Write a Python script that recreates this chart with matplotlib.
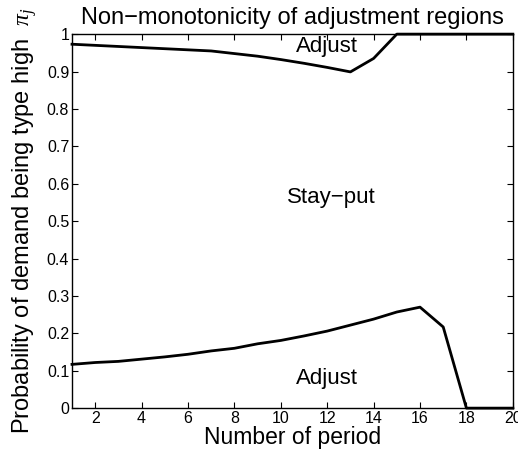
import matplotlib
matplotlib.use('Agg')
import matplotlib.pyplot as plt

# period index and boundary curves
periods = list(range(1, 21))
upper_bound = [0.973, 0.970, 0.967, 0.964, 0.961, 0.958, 0.955, 0.948, 0.941, 0.932,
               0.922, 0.911, 0.899, 0.935, 1.0, 1.0, 1.0, 1.0, 1.0, 1.0]
lower_bound = [0.117, 0.122, 0.125, 0.131, 0.137, 0.144, 0.153, 0.160, 0.172, 0.181,
               0.193, 0.206, 0.222, 0.238, 0.257, 0.270, 0.217, 0.0, 0.0, 0.0]

x_ticks = list(range(2, 21, 2))
y_ticks = [0, 0.1, 0.2, 0.3, 0.4, 0.5, 0.6, 0.7, 0.8, 0.9, 1]
y_ticklabels = ['0', '0.1', '0.2', '0.3', '0.4', '0.5', '0.6', '0.7', '0.8', '0.9', '1']

plt.rcParams['font.family'] = ['Liberation Sans', 'DejaVu Sans']
plt.rcParams['mathtext.fontset'] = 'custom'
plt.rcParams['mathtext.it'] = 'Liberation Serif:italic'

fig = plt.figure(figsize=(5.18, 4.55), dpi=100)
ax = fig.add_axes([0.139, 0.103, 0.851, 0.822])

ax.plot(periods, upper_bound, color='black', lw=2.0, clip_on=False)
ax.plot(periods, lower_bound, color='black', lw=2.0, clip_on=False)

ax.set_xlim(1, 20)
ax.set_ylim(0, 1)
ax.set_xticks(x_ticks)
ax.set_yticks(y_ticks)
ax.set_yticklabels(y_ticklabels)
ax.tick_params(direction='in', top=True, right=True, labelsize=11.5, length=4, width=0.8, pad=2)
for sp in ax.spines.values():
    sp.set_linewidth(1.0)

ax.text(11.97, 0.968, 'Adjust', fontsize=16, ha='center', va='center')
ax.text(12.19, 0.564, 'Stay\u2212put', fontsize=16, ha='center', va='center')
ax.text(11.97, 0.08, 'Adjust', fontsize=16, ha='center', va='center')

ax.set_title('Non\u2212monotonicity of adjustment regions', fontsize=17, pad=7)
ax.set_xlabel('Number of period', fontsize=16.5, labelpad=0)
ax.set_ylabel(r'Probability of demand being type high  $\pi_j$', fontsize=17, labelpad=6)

fig.savefig('out.png', dpi=100)
